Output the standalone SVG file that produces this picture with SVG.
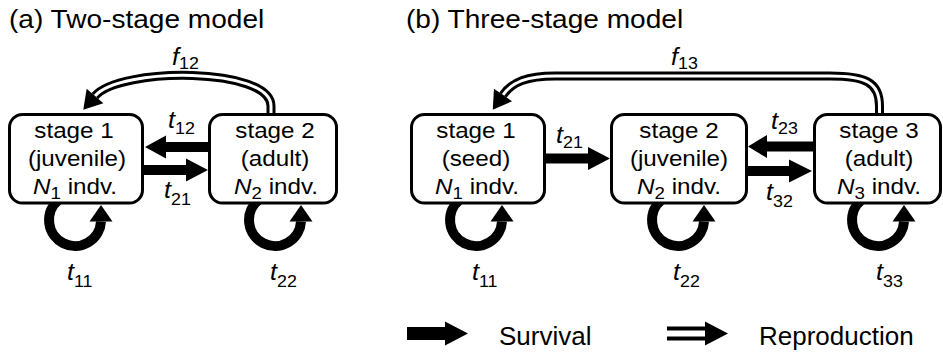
<svg xmlns="http://www.w3.org/2000/svg" width="943" height="356" viewBox="0 0 943 356">
  <style>
    text { font-family: "Liberation Sans", Arial, sans-serif; fill: #000; }
    .title { font-size: 26px; }
    .nt { font-size: 22px; text-anchor: middle; }
    .lbl { font-size: 24px; }
    .it { font-style: italic; }
    .sub { font-size: 17px; font-style: normal; }
    .legend { font-size: 26px; }
    .box { fill: #fff; stroke: #000; stroke-width: 3; }
    .surv { fill: #000; }
    .loop { fill: none; stroke: #000; stroke-width: 10; }
    .dbl-o { fill: none; stroke: #000; stroke-width: 9; }
    .dbl-i { fill: none; stroke: #fff; stroke-width: 3; marker-end: url(#head); }
  </style>
  <defs>
    <marker id="head" markerUnits="userSpaceOnUse" orient="auto" refX="0" refY="0" markerWidth="20" markerHeight="24" overflow="visible">
      <path d="M0,-11 L18,0 L0,11 Z" fill="#000"/>
    </marker>
  </defs>

  <rect width="943" height="356" fill="#fff"/>

  <!-- panel titles -->
  <text class="title" transform="translate(9,28) scale(1.08,1)">(a) Two-stage model</text>
  <text class="title" transform="translate(406,28) scale(1.08,1)">(b) Three-stage model</text>

  <!-- transitions -->
  <g id="connectors">
    <!-- (a) reproduction f12 -->
    <path class="dbl-o" d="M271,116 L271,106 C271,67 120,67 95,96"/>
    <path class="dbl-i" d="M271,116 L271,106 C271,67 120,67 95,96"/>
    <!-- (a) survival t12, t21 -->
    <polygon class="surv" points="210,142 166,142 166,135.5 145,147 166,158.5 166,152 210,152"/>
    <polygon class="surv" points="142,165 186,165 186,158.5 208,170 186,181.5 186,175 142,175"/>
    <!-- (a) self loops t11, t22 -->
    <path class="loop" d="M58.4,200 A26,26 0 1 0 101,221.4"/>
    <polygon class="surv" points="89.5,221.4 112.5,221.4 101,205"/>
    <path class="loop" d="M258.4,200 A26,26 0 1 0 301,221.4"/>
    <polygon class="surv" points="289.5,221.4 312.5,221.4 301,205"/>

    <!-- (b) reproduction f13 -->
    <path class="dbl-o" d="M879.5,116 L879.5,106 C879.5,82 865,76 830,76 L555,76 C527,76 512,82 503,95"/>
    <path class="dbl-i" d="M879.5,116 L879.5,106 C879.5,82 865,76 830,76 L555,76 C527,76 512,82 503,95"/>
    <!-- (b) survival t21, t23, t32 -->
    <polygon class="surv" points="544,153.5 588,153.5 588,147 610,158.5 588,170 588,163.5 544,163.5"/>
    <polygon class="surv" points="815,141.5 767,141.5 767,135 748,146.5 767,158 767,151.5 815,151.5"/>
    <polygon class="surv" points="746,166 789,166 789,159.5 812,171 789,182.5 789,176 746,176"/>
    <!-- (b) self loops t11, t22, t33 -->
    <path class="loop" d="M459.4,200 A26,26 0 1 0 502,221.4"/>
    <polygon class="surv" points="490.5,221.4 513.5,221.4 502,205"/>
    <path class="loop" d="M661.4,200 A26,26 0 1 0 704,221.4"/>
    <polygon class="surv" points="692.5,221.4 715.5,221.4 704,205"/>
    <path class="loop" d="M861.4,200 A26,26 0 1 0 904,221.4"/>
    <polygon class="surv" points="892.5,221.4 915.5,221.4 904,205"/>

    <!-- transition labels -->
    <text class="lbl" transform="translate(172,65) scale(1.05,1)"><tspan class="it">f</tspan><tspan class="sub" dy="4">12</tspan></text>
    <text class="lbl" transform="translate(168,128) scale(1.05,1)"><tspan class="it">t</tspan><tspan class="sub" dy="6">12</tspan></text>
    <text class="lbl" transform="translate(164,198) scale(1.05,1)"><tspan class="it">t</tspan><tspan class="sub" dy="7">21</tspan></text>
    <text class="lbl" transform="translate(67,280) scale(1.05,1)"><tspan class="it">t</tspan><tspan class="sub" dy="7">11</tspan></text>
    <text class="lbl" transform="translate(270,280) scale(1.05,1)"><tspan class="it">t</tspan><tspan class="sub" dy="7">22</tspan></text>

    <text class="lbl" transform="translate(671,65) scale(1.05,1)"><tspan class="it">f</tspan><tspan class="sub" dy="4">13</tspan></text>
    <text class="lbl" transform="translate(556,143) scale(1.05,1)"><tspan class="it">t</tspan><tspan class="sub" dy="5">21</tspan></text>
    <text class="lbl" transform="translate(771,129) scale(1.05,1)"><tspan class="it">t</tspan><tspan class="sub" dy="5">23</tspan></text>
    <text class="lbl" transform="translate(766,200) scale(1.05,1)"><tspan class="it">t</tspan><tspan class="sub" dy="7">32</tspan></text>
    <text class="lbl" transform="translate(472,280) scale(1.05,1)"><tspan class="it">t</tspan><tspan class="sub" dy="7">11</tspan></text>
    <text class="lbl" transform="translate(673,280) scale(1.05,1)"><tspan class="it">t</tspan><tspan class="sub" dy="7">22</tspan></text>
    <text class="lbl" transform="translate(876,280) scale(1.05,1)"><tspan class="it">t</tspan><tspan class="sub" dy="7">33</tspan></text>
  </g>

  <!-- (a) two-stage nodes -->
  <g id="a-stage1">
    <rect class="box" x="9.5" y="114.5" width="133" height="88.5" rx="13"/>
    <text class="nt" transform="translate(74,138) scale(1.1,1)">stage 1</text>
    <text class="nt" transform="translate(77,166) scale(1.1,1)">(juvenile)</text>
    <text class="nt" transform="translate(75,194) scale(1.1,1)"><tspan class="it">N</tspan><tspan class="sub" dy="5">1</tspan><tspan dy="-5"> indv.</tspan></text>
  </g>
  <g id="a-stage2">
    <rect class="box" x="209.5" y="114.5" width="127" height="88.5" rx="13"/>
    <text class="nt" transform="translate(275,138) scale(1.1,1)">stage 2</text>
    <text class="nt" transform="translate(275,166) scale(1.1,1)">(adult)</text>
    <text class="nt" transform="translate(276,194) scale(1.1,1)"><tspan class="it">N</tspan><tspan class="sub" dy="5">2</tspan><tspan dy="-5"> indv.</tspan></text>
  </g>

  <!-- (b) three-stage nodes -->
  <g id="b-stage1">
    <rect class="box" x="411.5" y="114.5" width="133" height="88.5" rx="13"/>
    <text class="nt" transform="translate(476,138) scale(1.1,1)">stage 1</text>
    <text class="nt" transform="translate(476,166) scale(1.1,1)">(seed)</text>
    <text class="nt" transform="translate(477,194) scale(1.1,1)"><tspan class="it">N</tspan><tspan class="sub" dy="5">1</tspan><tspan dy="-5"> indv.</tspan></text>
  </g>
  <g id="b-stage2">
    <rect class="box" x="611.5" y="114.5" width="135" height="88.5" rx="13"/>
    <text class="nt" transform="translate(679,138) scale(1.1,1)">stage 2</text>
    <text class="nt" transform="translate(679,166) scale(1.1,1)">(juvenile)</text>
    <text class="nt" transform="translate(679,194) scale(1.1,1)"><tspan class="it">N</tspan><tspan class="sub" dy="5">2</tspan><tspan dy="-5"> indv.</tspan></text>
  </g>
  <g id="b-stage3">
    <rect class="box" x="814.5" y="114.5" width="126" height="88.5" rx="13"/>
    <text class="nt" transform="translate(879,138) scale(1.1,1)">stage 3</text>
    <text class="nt" transform="translate(879,166) scale(1.1,1)">(adult)</text>
    <text class="nt" transform="translate(879,194) scale(1.1,1)"><tspan class="it">N</tspan><tspan class="sub" dy="5">3</tspan><tspan dy="-5"> indv.</tspan></text>
  </g>

  <!-- legend -->
  <g id="legend">
    <polygon class="surv" points="407,327 445,327 445,321.5 468,333.5 445,345.5 445,340 407,340"/>
    <text class="legend" x="499" y="345">Survival</text>
    <path d="M667,333.5 L706,333.5" fill="none" stroke="#000" stroke-width="14"/>
    <path d="M667,333.5 L706,333.5" fill="none" stroke="#fff" stroke-width="6"/>
    <polygon class="surv" points="705,321.5 728,333.5 705,345.5"/>
    <text class="legend" x="759" y="345">Reproduction</text>
  </g>
</svg>
